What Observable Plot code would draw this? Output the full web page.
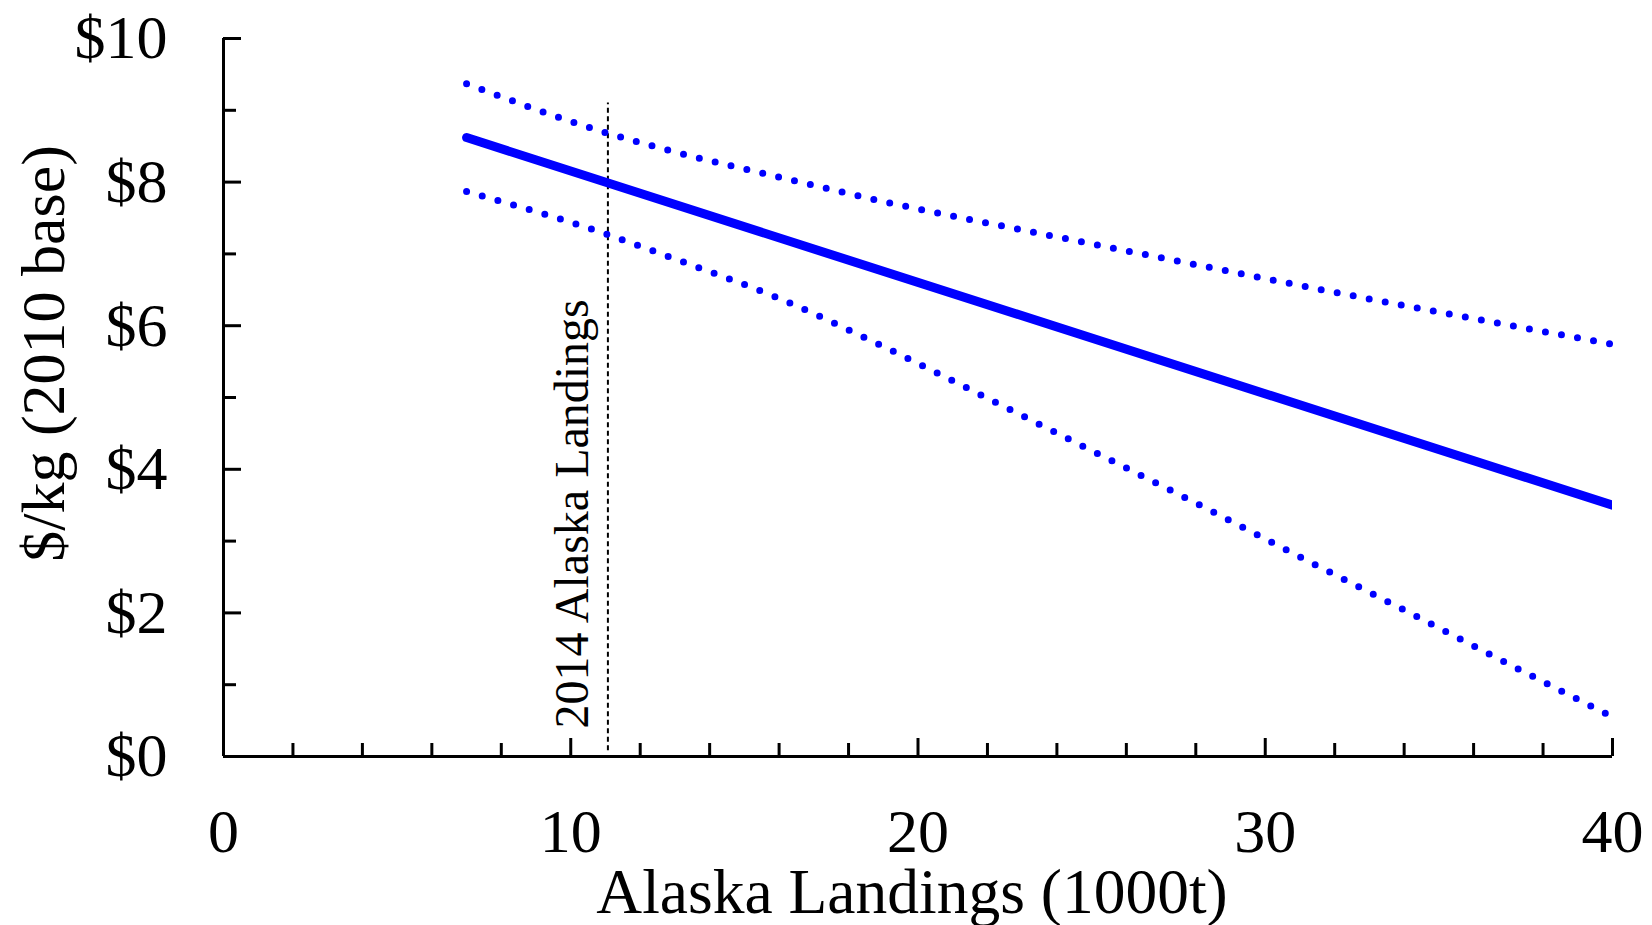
<!DOCTYPE html>
<html><head><meta charset="utf-8">
<script src="https://cdn.jsdelivr.net/npm/d3@7"></script>
<script src="https://cdn.jsdelivr.net/npm/@observablehq/plot@0.6"></script>
<style>html,body{margin:0;padding:0;background:#fff} svg{display:block}</style>
</head><body><div id="chart"></div>
<script>
// Data
const landings = [7, 11, 13, 16, 19, 22, 25, 28, 31, 34, 37, 40];
const upperBand = [9.37, 8.69, 8.42, 8.07, 7.73, 7.43, 7.14, 6.85, 6.56, 6.28, 6.01, 5.74];
const lowerBand = [7.87, 7.28, 6.93, 6.38, 5.71, 4.99, 4.26, 3.53, 2.78, 2.04, 1.29, 0.55];
const fitLandings = [7, 40];
const fitPrice = [8.62, 3.50];
const landings2014 = [11.07];
const refLineFrom = 0.08;
const refLineTo = 9.1;
const annotation = "2014 Alaska Landings";
const xLabel = "Alaska Landings (1000t)";
const yLabel = "$/kg (2010 base)";
const xMajorTicks = [0, 10, 20, 30, 40];
const xMinorTicks = [2, 4, 6, 8, 12, 14, 16, 18, 22, 24, 26, 28, 32, 34, 36, 38];
const yMajorTicks = [0, 2, 4, 6, 8, 10];
const yMinorTicks = [1, 3, 5, 7, 9];

const blue = "#0000ff";
const upper = landings.map((x, i) => ({x, y: upperBand[i]}));
const lower = landings.map((x, i) => ({x, y: lowerBand[i]}));
const fit = fitLandings.map((x, i) => ({x, y: fitPrice[i]}));

const chart = Plot.plot({
  width: 1652,
  height: 925,
  marginLeft: 223,
  marginRight: 40,
  marginTop: 38,
  marginBottom: 169,
  x: {domain: [0, 40]},
  y: {domain: [0, 10]},
  style: {fontFamily: "'Liberation Serif', 'Times New Roman', serif", color: "#000", background: "#fff", overflow: "visible"},
  marks: [
    // tick marks (inward)
    Plot.axisX(xMajorTicks, {tickSize: -18, strokeWidth: 3, fill: "none", label: null}),
    Plot.axisX(xMinorTicks, {tickSize: -13, strokeWidth: 3, fill: "none", label: null}),
    Plot.axisY(yMajorTicks, {tickSize: -18, strokeWidth: 3, fill: "none", label: null}),
    Plot.axisY(yMinorTicks, {tickSize: -13, strokeWidth: 3, fill: "none", label: null}),
    // tick labels
    Plot.axisX(xMajorTicks, {tickSize: 0, tickPadding: 51, fontSize: 62, label: null, tickFormat: d => String(d)}),
    Plot.axisY(yMajorTicks, {tickSize: 0, tickPadding: 56, fontSize: 62, label: null, tickFormat: d => "$" + d}),
    // axis lines
    Plot.ruleY([0], {strokeWidth: 3}),
    Plot.ruleX([0], {strokeWidth: 3}),
    // axis titles
    Plot.text([xLabel], {frameAnchor: "bottom", lineAnchor: "bottom", dx: -6, dy: 156, fontSize: 63.5}),
    Plot.text([yLabel], {frameAnchor: "left", rotate: -90, lineAnchor: "bottom", textAnchor: "middle", dx: -160, dy: -44, fontSize: 62}),
    // reference line for 2014 landings
    Plot.ruleX(landings2014, {y1: refLineFrom, y2: refLineTo, stroke: "#000", strokeWidth: 2, strokeDasharray: "5,3.5"}),
    Plot.text(landings2014, {x: d => d, y: () => 0, text: () => annotation, rotate: -90, textAnchor: "start", lineAnchor: "bottom", dx: -20, dy: -28, fontSize: 48}),
    // confidence bands
    Plot.line(upper, {x: "x", y: "y", stroke: blue, strokeWidth: 7, strokeDasharray: "0,16.3", strokeLinecap: "round", curve: "monotone-x"}),
    Plot.line(lower, {x: "x", y: "y", stroke: blue, strokeWidth: 7, strokeDasharray: "0,16.3", strokeLinecap: "round", curve: "monotone-x"}),
    // fitted line
    Plot.line(fit, {x: "x", y: "y", stroke: blue, strokeWidth: 9, strokeLinecap: "round", clip: true})
  ]
});
document.getElementById("chart").appendChild(chart);
</script>
</body></html>
